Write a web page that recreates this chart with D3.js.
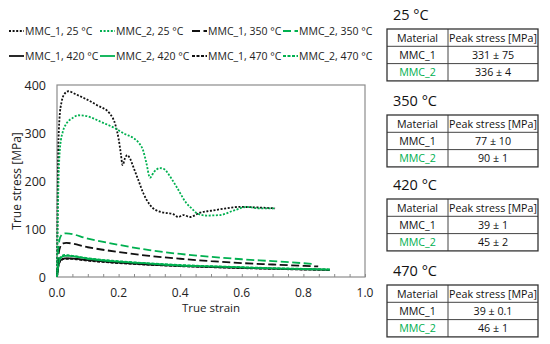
<!DOCTYPE html>
<html>
<head>
<meta charset="utf-8">
<script src="https://cdn.jsdelivr.net/npm/d3@7"></script>
<style>
  body { margin: 0; background: #fff; }
  svg text { font-family: "Open Sans", "Noto Sans", sans-serif; }
</style>
</head>
<body>
<div id="chart"></div>
<script>
// stress-strain curves, [true strain, true stress MPa]
const mmc1_25 = [[0,0],[0.002,150],[0.004,260],[0.008,330],[0.015,365],[0.025,382],[0.037,387],[0.06,381],[0.09,372],[0.13,358],[0.172,340],[0.19,316],[0.2,288],[0.207,258],[0.213,233],[0.22,246],[0.228,254],[0.237,247],[0.248,229],[0.264,202],[0.28,175],[0.302,150],[0.334,136],[0.36,133],[0.377,131],[0.394,125],[0.41,129],[0.432,125],[0.464,134],[0.5,138],[0.529,141],[0.594,146],[0.648,145],[0.708,143]];
const mmc2_25 = [[0,0],[0.002,100],[0.005,200],[0.01,271],[0.02,305],[0.031,320],[0.05,331],[0.069,337],[0.09,336],[0.12,330],[0.14,324],[0.188,310],[0.22,298],[0.247,290],[0.265,280],[0.28,263],[0.29,238],[0.302,207],[0.315,219],[0.334,227],[0.35,224],[0.36,216],[0.388,188],[0.42,154],[0.442,140],[0.453,133],[0.486,128],[0.529,129],[0.572,138],[0.616,146],[0.659,143],[0.708,143]];
const mmc1_350 = [[0,0],[0.004,40],[0.01,62],[0.02,70],[0.03,71],[0.1,62],[0.2,52],[0.3,44],[0.4,38],[0.5,33],[0.6,29],[0.7,26],[0.848,22]];
const mmc2_350 = [[0,0],[0.004,55],[0.01,82],[0.02,90],[0.03,91],[0.1,80],[0.2,67],[0.3,56],[0.4,48],[0.5,42],[0.6,37],[0.7,33],[0.838,27]];
const mmc1_420 = [[0,0],[0.005,25],[0.012,35],[0.025,39],[0.04,39],[0.1,35],[0.2,30],[0.3,26],[0.4,23],[0.5,21],[0.6,19],[0.7,17.5],[0.8,16],[0.886,15]];
const mmc2_420 = [[0,0],[0.005,28],[0.012,40],[0.025,44],[0.04,44],[0.1,38],[0.2,32],[0.3,28],[0.4,24],[0.5,22],[0.6,20],[0.7,18],[0.8,16.5],[0.886,15.5]];
const mmc1_470 = [[0,0],[0.005,24],[0.012,34],[0.025,38],[0.04,38],[0.1,34],[0.2,29],[0.3,25.5],[0.4,22.5],[0.5,20.5],[0.6,18.5],[0.7,17],[0.8,15.5],[0.886,14.5]];
const mmc2_470 = [[0,0],[0.005,30],[0.012,42],[0.025,46],[0.04,45],[0.1,39],[0.2,33],[0.3,28.5],[0.4,25],[0.5,22.5],[0.6,20.5],[0.7,18.5],[0.8,17],[0.886,16]];

const seriesNames = ["MMC_1, 25 °C", "MMC_2, 25 °C", "MMC_1, 350 °C", "MMC_2, 350 °C",
                     "MMC_1, 420 °C", "MMC_2, 420 °C", "MMC_1, 470 °C", "MMC_2, 470 °C"];
const seriesData = [mmc1_25, mmc2_25, mmc1_350, mmc2_350, mmc1_420, mmc2_420, mmc1_470, mmc2_470];

const xTicks = [0, 0.2, 0.4, 0.6, 0.8, 1.0];
const yTicks = [0, 100, 200, 300, 400];

// peak stress tables
const tableTemps = ["25 °C", "350 °C", "420 °C", "470 °C"];
const tableMaterials = ["MMC_1", "MMC_2"];
const peakStress = [["331 ± 75", "336 ± 4"], ["77 ± 10", "90 ± 1"], ["39 ± 1", "45 ± 2"], ["39 ± 0.1", "46 ± 1"]];

const black = "#111", green = "#00b050";
const styles = [
  { color: black, dash: "2,1.6" },
  { color: green, dash: "2,1.6" },
  { color: black, dash: "8,3.5" },
  { color: green, dash: "8,3.5" },
  { color: black, dash: null },
  { color: green, dash: null },
  { color: black, dash: "3,1.5" },
  { color: green, dash: "3,1.5" }
];

const W = 550, H = 344;
const svg = d3.select("#chart").append("svg").attr("width", W).attr("height", H);

const plot = { left: 57, top: 85, right: 365, bottom: 277 };
const x = d3.scaleLinear().domain([0, 1]).range([plot.left, plot.right]);
const y = d3.scaleLinear().domain([0, 400]).range([plot.bottom, plot.top]);

// frame
svg.append("rect")
  .attr("x", plot.left).attr("y", plot.top)
  .attr("width", plot.right - plot.left).attr("height", plot.bottom - plot.top)
  .attr("fill", "none").attr("stroke", "#8c8c8c").attr("stroke-width", 1.2);

// minor ticks on x, pointing inward
const xAxis = svg.append("g")
  .attr("transform", `translate(0,${plot.bottom})`)
  .call(d3.axisBottom(x).tickValues(d3.range(0, 1.001, 0.05)).tickSizeInner(-3).tickSizeOuter(0).tickFormat(""));
xAxis.select(".domain").remove();
xAxis.selectAll("line").attr("stroke", "#8c8c8c");

svg.append("g")
  .selectAll("text").data(xTicks).join("text")
  .attr("x", d => x(d)).attr("y", plot.bottom + 20)
  .attr("text-anchor", "middle").attr("font-size", 12).attr("fill", "#222")
  .text(d => d.toFixed(1));

svg.append("g")
  .selectAll("text").data(yTicks).join("text")
  .attr("x", plot.left - 11).attr("y", d => y(d) + 4.5)
  .attr("text-anchor", "end").attr("font-size", 12.5).attr("fill", "#222")
  .text(d => d);

svg.append("text")
  .attr("x", (plot.left + plot.right) / 2).attr("y", 312)
  .attr("text-anchor", "middle").attr("font-size", 11.5).attr("fill", "#222")
  .text("True strain");

svg.append("text")
  .attr("transform", `translate(21,${(plot.top + plot.bottom) / 2}) rotate(-90)`)
  .attr("text-anchor", "middle").attr("font-size", 12).attr("fill", "#222")
  .text("True stress [MPa]");

// curves
const line = d3.line().x(d => x(d[0])).y(d => y(d[1])).curve(d3.curveMonotoneX);
const drawOrder = [4, 6, 5, 7, 2, 3, 0, 1];
drawOrder.forEach(i => {
  svg.append("path")
    .attr("d", line(seriesData[i]))
    .attr("fill", "none")
    .attr("stroke", styles[i].color)
    .attr("stroke-width", 1.8)
    .attr("stroke-dasharray", styles[i].dash);
});

// legend
const legendX = [9, 100, 192, 283];
const legendY = [31, 56];
seriesNames.forEach((name, i) => {
  const lx = legendX[i % 4], ly = legendY[Math.floor(i / 4)];
  svg.append("line")
    .attr("x1", lx).attr("x2", lx + 15).attr("y1", ly).attr("y2", ly)
    .attr("stroke", styles[i].color).attr("stroke-width", 1.8)
    .attr("stroke-dasharray", styles[i].dash);
  svg.append("text")
    .attr("x", lx + 16).attr("y", ly + 4)
    .attr("font-size", 10.5).attr("fill", "#222")
    .text(name);
});

// tables
const tableTop = [29, 115, 199, 285];
const tx0 = 387, tx1 = 448, tx2 = 538, rowH = 17.3;
tableTemps.forEach((t, k) => {
  const top = tableTop[k];
  svg.append("text")
    .attr("x", 393).attr("y", top - 9)
    .attr("font-size", 14.5).attr("fill", "#111")
    .text(t);
  const g = svg.append("g");
  const rows = [["Material", "Peak stress [MPa]"]].concat(
    tableMaterials.map((m, j) => [m, peakStress[k][j]]));
  rows.forEach((r, j) => {
    const ry = top + j * rowH;
    g.append("text").attr("x", (tx0 + tx1) / 2).attr("y", ry + rowH / 2 + 4)
      .attr("text-anchor", "middle").attr("font-size", 10.7)
      .attr("fill", j === 2 ? green : "#111").text(r[0]);
    g.append("text").attr("x", (tx1 + tx2) / 2).attr("y", ry + rowH / 2 + 4)
      .attr("text-anchor", "middle").attr("font-size", 10.7)
      .attr("fill", "#111").text(r[1]);
  });
  d3.range(1, 3).forEach(j => {
    g.append("line").attr("x1", tx0).attr("x2", tx2)
      .attr("y1", top + j * rowH).attr("y2", top + j * rowH)
      .attr("stroke", "#444").attr("stroke-width", 1);
  });
  g.append("line").attr("x1", tx1).attr("x2", tx1)
    .attr("y1", top).attr("y2", top + 3 * rowH)
    .attr("stroke", "#444").attr("stroke-width", 1);
  g.append("rect").attr("x", tx0).attr("y", top)
    .attr("width", tx2 - tx0).attr("height", 3 * rowH)
    .attr("fill", "none").attr("stroke", "#333").attr("stroke-width", 1.3);
});
</script>
</body>
</html>
